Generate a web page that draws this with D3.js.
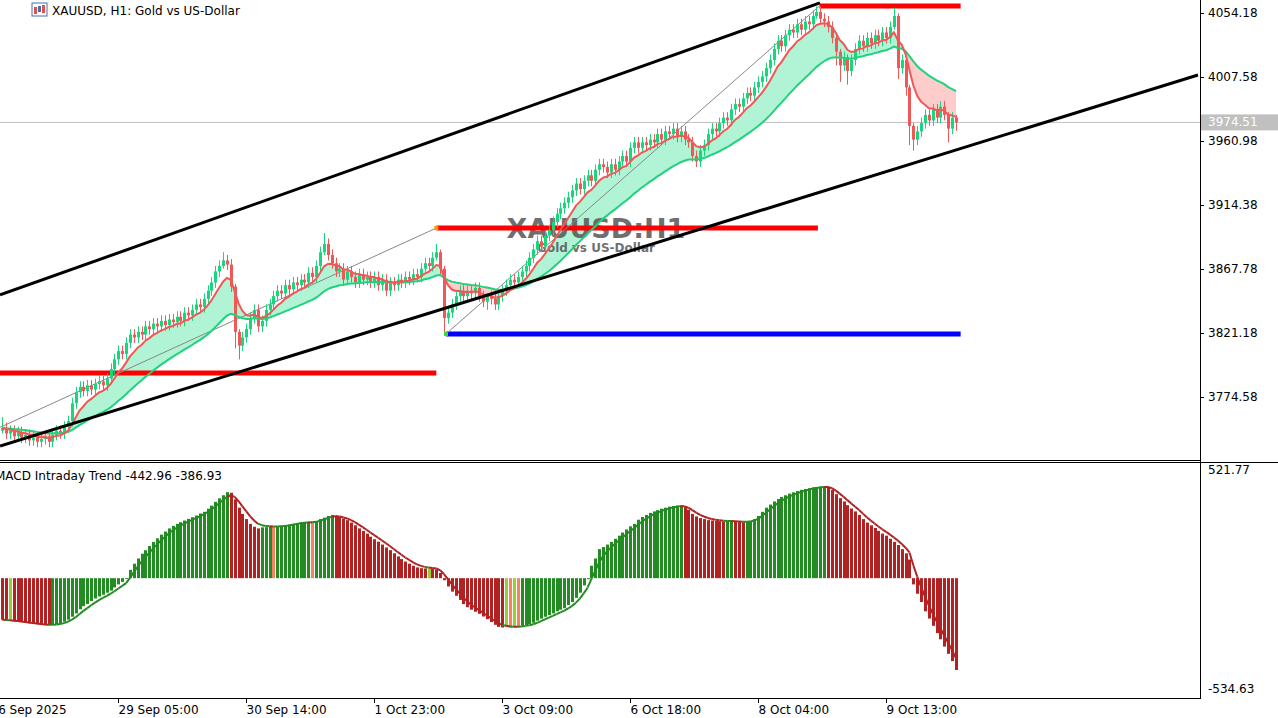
<!DOCTYPE html>
<html>
<head>
<meta charset="utf-8">
<script src="https://cdn.jsdelivr.net/npm/d3@7"></script>
<style>
  body { margin: 0; background: #fff; }
  svg { display: block; font-family: Tahoma, "DejaVu Sans", sans-serif; }
</style>
</head>
<body>
<div id="Chart"></div>
<script>

// hourly closes (open = previous close)
const closes = [
  3752,3748,3750,3746,3749,3745,3747,3743,3745,3742,3744,3746,3742,3747,3750,3748,3753,3757,3770,3778,
  3782,3779,3783,3780,3784,3786,3783,3788,3795,3802,3808,3806,3814,3820,3818,3822,3820,3826,3824,3828,
  3826,3830,3827,3831,3829,3833,3830,3836,3834,3838,3842,3840,3846,3852,3858,3866,3870,3874,3871,3855,
  3822,3812,3818,3824,3832,3838,3826,3830,3838,3842,3848,3852,3850,3856,3853,3858,3856,3860,3858,3865,
  3862,3870,3880,3886,3878,3872,3866,3868,3860,3866,3862,3858,3864,3860,3862,3858,3862,3856,3860,3852,
  3858,3856,3860,3858,3862,3860,3864,3862,3868,3872,3870,3876,3880,3868,3832,3836,3842,3848,3852,3848,
  3852,3850,3854,3848,3844,3848,3846,3842,3848,3852,3856,3860,3858,3862,3866,3870,3876,3882,3888,3884,
  3892,3896,3902,3908,3912,3916,3920,3925,3930,3926,3932,3936,3932,3940,3944,3942,3938,3944,3940,3946,
  3950,3946,3956,3960,3956,3960,3958,3962,3960,3966,3962,3968,3966,3970,3964,3968,3962,3960,3950,3946,
  3954,3958,3966,3970,3968,3974,3978,3976,3984,3988,3986,3992,3996,3994,4000,4004,4008,4014,4020,4028,
  4034,4030,4038,4042,4040,4046,4042,4048,4046,4052,4055,4050,4048,4044,4036,4026,4016,4022,4012,4020,
  4028,4034,4030,4036,4032,4038,4034,4040,4036,4044,4052,4014,4020,4000,3972,3962,3968,3974,3980,3976,
  3984,3978,3986,3980,3970,3978,3974.51
];
const firstOpen = 3750;
// notable wicks (bar index: [extra above, extra below])
const wicks = {
  0:[8,2], 57:[6,2], 60:[2,12], 61:[2,10], 83:[8,2], 112:[6,2], 113:[2,4], 114:[2,12],
  125:[2,6], 210:[4,2], 215:[2,10], 216:[2,12], 218:[2,10], 230:[6,2], 231:[2,8], 233:[2,6],
  234:[2,14], 235:[2,8], 244:[2,10], 246:[2,6]
};

// oscillator bars
const macdVals = [
  -200,-205,-205,-208,-210,-212,-215,-218,-220,-222,-225,-226,-227,-226,-222,-218,-210,-200,-186,-170,
  -150,-135,-125,-110,-98,-88,-80,-70,-60,-45,-30,-18,-4,40,70,95,118,135,155,175,
  192,210,225,240,252,262,270,278,286,294,302,312,320,335,350,368,385,400,415,412,
  380,340,310,285,262,248,240,245,246,248,247,250,252,255,258,262,266,270,271,272,
  270,275,285,292,300,305,302,295,288,280,268,255,240,228,215,200,188,176,162,148,
  135,120,105,92,80,70,60,52,48,47,48,46,42,25,-10,-40,-65,-85,-105,-125,
  -140,-152,-162,-172,-185,-198,-212,-225,-235,-238,-236,-238,-235,-236,-230,-226,-222,-215,-205,-195,
  -186,-178,-170,-160,-152,-145,-130,-115,-95,-70,-35,-5,60,95,140,150,162,175,190,205,
  220,235,250,262,282,295,305,315,322,328,335,340,345,348,350,352,345,330,310,298,
  290,285,280,278,276,275,274,274,275,274,272,270,272,275,285,300,320,340,355,370,
  382,392,400,408,414,420,426,430,434,438,440,442,444,440,425,405,386,370,352,336,
  322,305,285,268,255,242,228,215,205,190,175,160,140,120,90,-30,-75,-115,-160,-195,
  -230,-265,-295,-330,-365,-400,-442.96
];
const signalLast = -386.93;

// time axis labels (bar index, text)
const timeTicks = [
  [-3, "26 Sep 2025"], [30, "29 Sep 05:00"], [63, "30 Sep 14:00"], [96, "1 Oct 23:00"],
  [129, "3 Oct 09:00"], [162, "6 Oct 18:00"], [195, "8 Oct 04:00"], [228, "9 Oct 13:00"]
];
const priceTicks = [4054.18, 4007.58, 3960.98, 3914.38, 3867.78, 3821.18, 3774.58];
const lastPrice = 3974.51;

// drawn objects: channel, levels, zigzag
const channelUpper = [[-0.5, 3848.9], [210.9, 4061.5]];
const channelLower = [[-0.5, 3738.9], [308.4, 4009.0]];
const levels = [
  {from: -1, to: 112, price: 3792.1, color: "#ff0000"},
  {from: 112, to: 210.4, price: 3897.6, color: "#ff0000"},
  {from: 210.8, to: 247.2, price: 4059.3, color: "#ff0000"},
  {from: 114.5, to: 247.2, price: 3820.5, color: "#0000ff"}
];
const zigzag = [[[-0.5, 3752.5], [112, 3897.6]], [[114.5, 3820.5], [210.8, 4059.3]]];

const macdMin = -534.63, macdMax = 521.77;

const W = 1278, H = 718, AX = 1200;

const x = d3.scaleLinear().domain([0, 1]).range([2, 5.878]);
const y = d3.scaleLinear().domain([3774.58, 4054.18]).range([397, 13]);
const ym = d3.scaleLinear().domain([macdMin, macdMax]).range([689, 470]);

function ema(arr, n) {
  const k = 2 / (n + 1); let out = []; let v = arr[0];
  arr.forEach((c, i) => { v = i ? c * k + v * (1 - k) : c; out.push(v); });
  return out;
}

const bars = closes.map((c, i) => {
  const o = i ? closes[i - 1] : firstOpen;
  const w = wicks[i] || [4, 4];
  return {i, o, c, h: Math.max(o, c) + w[0], l: Math.min(o, c) - w[1]};
});
const fast = ema(closes, 8), slow = ema(closes, 30);
const sig = ema(macdVals, 4);

const svg = d3.select("#Chart").append("svg").attr("width", W).attr("height", H);

const main = svg.append("g");
main.append("clipPath").attr("id", "cpMain").append("rect").attr("x", 0).attr("y", 0).attr("width", AX).attr("height", 460);
const g = main.append("g").attr("clip-path", "url(#cpMain)");

// last price line
g.append("line").attr("x1", 0).attr("x2", AX).attr("y1", y(lastPrice)).attr("y2", y(lastPrice)).attr("stroke", "#c0c0c0");

// ribbon fill between the two averages
const ribbon = fast.map((f, i) => ({i, f, s: slow[i]}));
const areaUp = d3.area().x(d => x(d.i)).y0(d => y(d.s)).y1(d => y(Math.max(d.f, d.s)));
const areaDn = d3.area().x(d => x(d.i)).y0(d => y(d.s)).y1(d => y(Math.min(d.f, d.s)));
g.append("path").datum(ribbon).attr("d", areaUp).attr("fill", "#b1f3d5");
g.append("path").datum(ribbon).attr("d", areaDn).attr("fill", "#ffcccc");

// watermark
g.append("text").attr("x", 596).attr("y", 238).attr("text-anchor", "middle").attr("font-size", 27).attr("font-weight", "bold").attr("fill", "#555").attr("fill-opacity", 0.85).text("XAUUSD:H1");
g.append("text").attr("x", 596).attr("y", 252).attr("text-anchor", "middle").attr("font-size", 12).attr("font-weight", "bold").attr("fill", "#555").attr("fill-opacity", 0.85).text("Gold vs US-Dollar");

// levels
levels.forEach(l => g.append("line").attr("x1", x(l.from)).attr("x2", x(l.to)).attr("y1", y(l.price)).attr("y2", y(l.price)).attr("stroke", l.color).attr("stroke-width", 5));

// zigzag
const line = d3.line().x(d => x(d[0])).y(d => y(d[1]));
zigzag.forEach(z => g.append("path").attr("d", line(z)).attr("stroke", "#888").attr("fill", "none"));

// candles
const cg = g.append("g");
cg.selectAll("line").data(bars).join("line")
  .attr("x1", d => Math.round(x(d.i)) + 0.5).attr("x2", d => Math.round(x(d.i)) + 0.5)
  .attr("y1", d => y(d.h)).attr("y2", d => y(d.l))
  .attr("stroke", d => d.c >= d.o ? "#17d67b" : "#f25757");
cg.selectAll("rect").data(bars).join("rect")
  .attr("x", d => Math.round(x(d.i)) - 1).attr("width", 3)
  .attr("y", d => y(Math.max(d.o, d.c))).attr("height", d => Math.max(1, Math.abs(y(d.o) - y(d.c))))
  .attr("fill", d => d.c >= d.o ? "#17d67b" : "#f25757");

// averages
g.append("path").datum(slow).attr("d", d3.line().x((d, i) => x(i)).y(d => y(d))).attr("stroke", "#1fd27c").attr("stroke-width", 2).attr("fill", "none");
g.append("path").datum(fast).attr("d", d3.line().x((d, i) => x(i)).y(d => y(d))).attr("stroke", "#f25757").attr("stroke-width", 2).attr("fill", "none");

// channel
[channelUpper, channelLower].forEach(c => g.append("path").attr("d", line(c)).attr("stroke", "#000").attr("stroke-width", 3).attr("fill", "none"));

// zigzag markers
g.append("rect").attr("x", x(112) - 2).attr("y", y(3897.6) - 2).attr("width", 4).attr("height", 4).attr("fill", "#ff9900");
g.append("rect").attr("x", x(114.5) - 2).attr("y", y(3820.5) - 2).attr("width", 4).attr("height", 4).attr("fill", "#33dd33");

// title
const ic = svg.append("g").attr("transform", "translate(32,3)");
ic.append("rect").attr("width", 15).attr("height", 13).attr("fill", "#fff").attr("stroke", "#4a6fa5");
ic.append("rect").attr("x", 2).attr("y", 4).attr("width", 3).attr("height", 7).attr("fill", "#e05050");
ic.append("rect").attr("x", 6).attr("y", 3).attr("width", 3).attr("height", 6).attr("fill", "#4a6fa5");
ic.append("rect").attr("x", 10).attr("y", 2).attr("width", 3).attr("height", 8).attr("fill", "#e05050");
svg.append("text").attr("x", 52).attr("y", 15).attr("font-size", 12).text("XAUUSD, H1:  Gold vs US-Dollar");

// price axis
svg.append("line").attr("x1", AX + 0.5).attr("x2", AX + 0.5).attr("y1", 0).attr("y2", 699).attr("stroke", "#000");
priceTicks.forEach(p => {
  svg.append("line").attr("x1", AX).attr("x2", AX + 4).attr("y1", Math.round(y(p)) + 0.5).attr("y2", Math.round(y(p)) + 0.5).attr("stroke", "#000");
  svg.append("text").attr("x", 1208).attr("y", y(p) + 4).attr("font-size", 12).text(d3.format(".2f")(p));
});
svg.append("rect").attr("x", AX + 1).attr("y", y(lastPrice) - 8).attr("width", 78).attr("height", 16).attr("fill", "#c0c0c0");
svg.append("text").attr("x", 1208).attr("y", y(lastPrice) + 4).attr("font-size", 12).attr("fill", "#fff").text(lastPrice.toFixed(2));

// panel separators
svg.append("line").attr("x1", 0).attr("x2", AX).attr("y1", 460.5).attr("y2", 460.5).attr("stroke", "#000");
svg.append("line").attr("x1", 0).attr("x2", W).attr("y1", 462.5).attr("y2", 462.5).attr("stroke", "#000");

// oscillator panel
const mg = svg.append("g");
mg.append("clipPath").attr("id", "cpM").append("rect").attr("x", 0).attr("y", 463).attr("width", AX).attr("height", 235);
const m = mg.append("g").attr("clip-path", "url(#cpM)");
const mdata = macdVals.map((v, i) => {
  const up = i ? v >= macdVals[i - 1] : false;
  const prevUp = i > 1 ? macdVals[i - 1] >= macdVals[i - 2] : up;
  const nextUp = i < macdVals.length - 1 ? macdVals[i + 1] >= v : up;
  let col = up ? "#228b22" : "#b22222";
  if (up && !prevUp && !nextUp) col = "#9acd32";
  if (!up && prevUp && nextUp) col = "#fa8062";
  return {i, v, up, col};
});
m.selectAll("rect").data(mdata).join("rect")
  .attr("x", d => Math.round(x(d.i)) - 1).attr("width", 3)
  .attr("y", d => Math.min(ym(0), ym(d.v))).attr("height", d => Math.abs(ym(d.v) - ym(0)))
  .attr("fill", d => d.col);
for (let i = 1; i < sig.length; i++) {
  m.append("line").attr("x1", x(i - 1)).attr("x2", x(i)).attr("y1", ym(sig[i - 1])).attr("y2", ym(sig[i]))
    .attr("stroke", mdata[i].up ? "#228b22" : "#b22222").attr("stroke-width", 2);
}
svg.append("text").attr("x", -5).attr("y", 480).attr("font-size", 12)
  .text(`MACD Intraday Trend  ${macdVals[macdVals.length - 1].toFixed(2)} ${signalLast.toFixed(2)}`);
[macdMax, macdMin].forEach(v => svg.append("text").attr("x", 1208).attr("y", ym(v) + 4).attr("font-size", 12).text(v.toFixed(2)));

// time axis
svg.append("line").attr("x1", 0).attr("x2", AX).attr("y1", 698.5).attr("y2", 698.5).attr("stroke", "#000");
timeTicks.forEach(([i, t]) => {
  const tx = Math.round(x(i)) + 0.5;
  svg.append("line").attr("x1", tx).attr("x2", tx).attr("y1", 698).attr("y2", 703).attr("stroke", "#000");
  svg.append("text").attr("x", tx).attr("y", 714).attr("font-size", 12).text(t);
});
</script>
</body>
</html>
